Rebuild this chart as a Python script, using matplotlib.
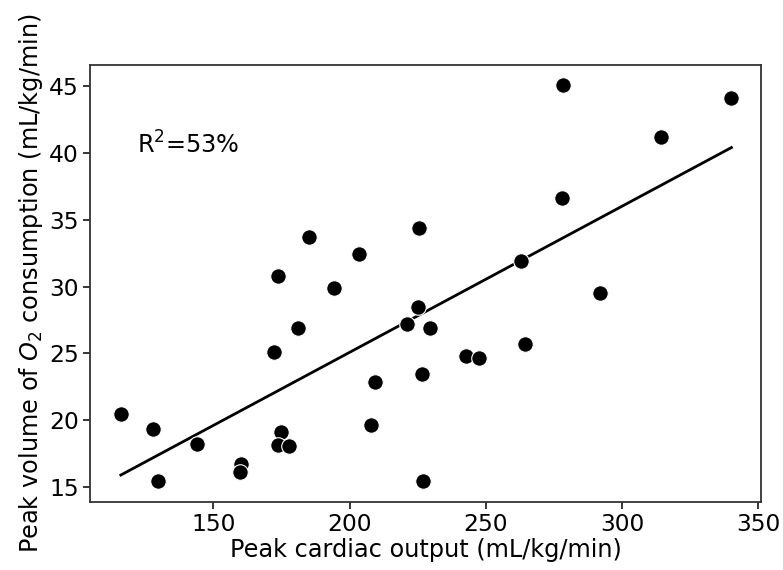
import numpy as np
import matplotlib
matplotlib.use('Agg')
import matplotlib.pyplot as plt

# peak cardiac output (mL/kg/min)
cardiac_output = [116.0, 127.9, 129.8, 143.9, 160.1, 159.7, 173.7, 172.3, 174.9, 173.8,
                  177.8, 181.0, 185.1, 194.4, 203.5, 209.3, 207.9, 225.6, 225.1, 221.1,
                  229.4, 226.4, 226.9, 242.6, 247.4, 264.3, 263.0, 277.8, 278.3, 291.9,
                  314.2, 340.1]
# peak VO2 (mL/kg/min)
vo2 = [20.45, 19.32, 15.42, 18.2, 16.75, 16.1, 30.82, 25.1, 19.15, 18.12,
       18.07, 26.92, 33.72, 29.9, 32.43, 22.82, 19.62, 34.4, 28.5, 27.2,
       26.92, 23.43, 15.42, 24.82, 24.65, 25.72, 31.95, 36.63, 45.13, 29.55,
       41.23, 44.13]
r2_text = r'R$^2$=53%'

x = np.array(cardiac_output)
y = np.array(vo2)

fig = plt.figure(figsize=(7.83, 5.7), dpi=100)
ax = fig.add_axes([0.115, 0.12, 0.857, 0.766])

ax.scatter(x, y, s=125, c='black', edgecolors='white', linewidths=0.8, zorder=3)

slope, intercept = np.polyfit(x, y, 1)
xl = np.array([x.min(), x.max()])
ax.plot(xl, slope * xl + intercept, color='black', linewidth=2, zorder=2)

ax.text(0.07, 0.798, r2_text, transform=ax.transAxes, va='baseline', ha='left', size=17.3)

ax.set_xlabel('Peak cardiac output (mL/kg/min)', size=17.3, labelpad=2)
ax.set_ylabel('Peak volume of $O_2$ consumption (mL/kg/min)', size=17.3, labelpad=3)
ax.set_xticks([150, 200, 250, 300, 350])
ax.set_yticks([15, 20, 25, 30, 35, 40, 45])
ax.set_xlim(104.7, 351)
ax.set_ylim(13.9, 46.6)
ax.tick_params(length=5, width=1.1, labelsize=16.8, pad=3)
for sp in ax.spines.values():
    sp.set_linewidth(1.3)
    sp.set_color('#333333')

plt.savefig('out.png', dpi=100)
